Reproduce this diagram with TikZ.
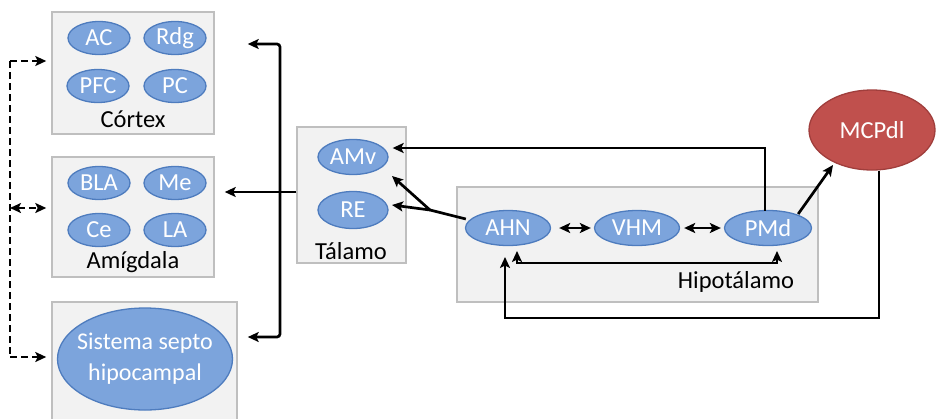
\documentclass[tikz,border=0pt]{standalone}
\usepackage{fontspec}
\setmainfont{Carlito}
\usetikzlibrary{shapes.geometric,arrows.meta,calc}
\definecolor{boxfill}{HTML}{F2F2F2}
\definecolor{boxline}{HTML}{BFBFBF}
\definecolor{ellfill}{RGB}{124,164,220}
\definecolor{ellline}{RGB}{78,124,190}
\definecolor{redfill}{RGB}{192,80,77}
\definecolor{redline}{RGB}{160,62,60}
\begin{document}
\begin{tikzpicture}[x=1pt,y=-1pt,
  every node/.style={font=\fontsize{24.5}{27}\selectfont},
  region/.style={draw=boxline,fill=boxfill,line width=1.5pt},
  blob/.style={ellipse,draw=ellline,fill=ellfill,line width=1.3pt,text=white,inner sep=0pt,minimum width=62pt,minimum height=33pt},
  hblob/.style={blob,minimum width=85pt,minimum height=35pt},
  tip/.tip={Stealth[length=11pt,width=10pt,inset=2.5pt]},
  conn/.style={line width=2.7pt,-tip},
  conn2/.style={line width=2.7pt,tip-tip},
  plain/.style={line width=2.7pt},
  dconn/.style={line width=2.7pt,dash pattern=on 7pt off 4pt,-tip},
  dconn2/.style={line width=2.7pt,dash pattern=on 7pt off 4pt,tip-tip},
  dline/.style={line width=2.7pt,dash pattern=on 7pt off 4pt}
]
\useasboundingbox (0,0) rectangle (936,418);
\begin{scope}
\clip (0,0) rectangle (936,418);
% boxes
\node[region,minimum width=162pt,minimum height=122pt,inner sep=0pt] (cortex) at (133,73) {};
\node[region,minimum width=162pt,minimum height=120pt,inner sep=0pt] (amig) at (133,217) {};
\node[region,minimum width=185pt,minimum height=128pt,inner sep=0pt] (septo) at (144.5,366) {};
\node[region,minimum width=109pt,minimum height=136pt,inner sep=0pt] (talamo) at (351.5,195) {};
\node[region,minimum width=361pt,minimum height=115pt,inner sep=0pt] (hipo) at (637.5,244.5) {};
\end{scope}
% cortex
\node[blob] (AC) at (99,38) {AC};
\node[blob] (Rdg) at (175,38) {Rdg};
\node[blob] (PFC) at (98,86) {PFC};
\node[blob] (PC) at (175,86) {PC};
\node (cortexlbl) at (133,119) {Córtex};
% amigdala
\node[blob] (BLA) at (99,183) {BLA};
\node[blob] (Me) at (175,183) {Me};
\node[blob] (Ce) at (99,230) {Ce};
\node[blob] (LA) at (175,230) {LA};
\node (amiglbl) at (133,262) {Amígdala};
% septo
\node[blob,minimum width=175pt,minimum height=102pt,inner xsep=-8pt,inner ysep=-10pt,align=center,font=\fontsize{24}{31}\selectfont] (SSH) at (145,359) {Sistema septo\\hipocampal};
% talamo
\node[blob,minimum width=70pt,minimum height=35pt] (AMv) at (353,157) {AMv};
\node[blob,minimum width=70pt,minimum height=37pt] (RE) at (353,210) {RE};
\node (talamolbl) at (351,251) {Tálamo};
% hipotalamo
\node[hblob] (AHN) at (508,228) {AHN};
\node[hblob] (VHM) at (637,228) {VHM};
\node[hblob,minimum width=87pt] (PMd) at (768,228) {PMd};
\node (hipolbl) at (736,282) {Hipotálamo};
% MCPdl
\node[ellipse,draw=redline,fill=redfill,line width=1.3pt,text=white,minimum width=126pt,minimum height=80pt,inner sep=0pt] (MCPdl) at (872,130) {MCPdl};

% dashed left connectors
\coordinate (d1) at (10,61);
\coordinate (d2) at (10,208);
\coordinate (d3) at (10,357);
\draw[dline] (d1) -- (d3);
\draw[dconn] (d1) -- ($(cortex.west |- d1)+(-5,0)$);
\draw[dconn2] (d2) -- ($(amig.west |- d2)+(-5,0)$);
\draw[dconn] (d3) -- ($(septo.west |- d3)+(-5,0)$);

% right bracket
\coordinate (b1) at (280,44);
\coordinate (b2) at (280,337);
\coordinate (b0) at (280,192);
\draw[conn2,rounded corners=3pt] ($(cortex.east |- b1)+(33,0)$) -- (b1) -- (b2) -- ($(septo.east |- b2)+(10,0)$);
\draw[conn] (talamo.west |- b0) -- ($(amig.east |- b0)+(10,0)$);

% PMd -> AMv
\coordinate (p1) at (765,148);
\draw[conn] ($(PMd.north)+(-3,1)$) -- (p1) -- ($(AMv.east |- p1)+(4,0)$);

% AHN -> RE and AMv
\coordinate (br) at (430,210);
\draw[plain] ($(AHN.west)+(1,-9)$) -- (br);
\draw[conn] (br) -- (392,205);
\draw[conn] (br) -- (392,176);

% within hypothalamus
\draw[conn2,shorten <=8pt,shorten >=3pt] (AHN) -- (VHM);
\draw[conn2,shorten <=4pt,shorten >=3pt] (VHM) -- (PMd);
\coordinate (h1) at (517,263);
\coordinate (h2) at (777,263);
\draw[conn2] (517,251) -- (h1) -- (h2) -- (777,251);

% PMd -> MCPdl
\draw[conn] ($(PMd.east)+(-14,-14)$) -- (833,165);

% MCPdl -> AHN
\coordinate (m1) at (879,318);
\coordinate (m2) at (505,318);
\draw[conn] (MCPdl.south -| m1) -- (m1) -- (m2) -- (505,257);
\end{tikzpicture}
\end{document}
